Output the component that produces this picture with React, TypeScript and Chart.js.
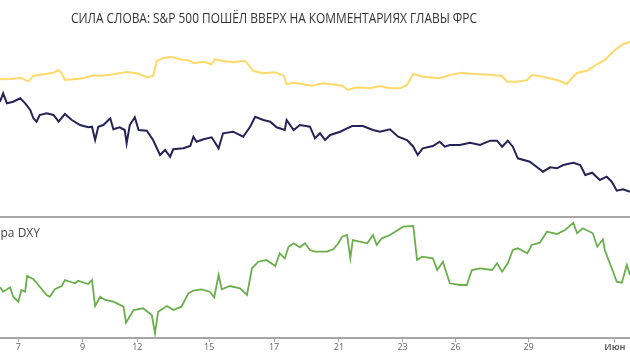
import React, { useEffect, useRef } from "react";
import { Chart, registerables } from "chart.js";

Chart.register(...registerables);

// time index (0..100) and values
const yellowT = [0, 1.6, 3.2, 4.5, 5.3, 6.9, 8.5, 9.3, 9.8, 10.3, 11.6, 13.2, 14.8, 15.9, 18.0, 20.1, 21.7, 23.3, 24.3, 24.9, 25.9, 27.0, 28.6, 30.2, 30.7, 32.3, 33.6, 34.1, 35.4, 37.0, 38.9, 40.2, 41.8, 43.7, 45.0, 45.5, 46.6, 48.1, 49.5, 51.3, 53.5, 54.4, 55.2, 56.7, 58.7, 60.3, 61.9, 63.5, 64.6, 65.6, 67.1, 69.8, 71.4, 73.3, 75.1, 77.8, 79.7, 80.5, 82.1, 83.7, 84.4, 86.2, 88.4, 90.0, 90.5, 91.6, 93.2, 94.8, 96.0, 97.3, 98.7, 100];
const yellowV = [120.7, 121, 122.3, 118.7, 124.3, 125.7, 127.3, 130, 126.7, 120, 120.7, 121.7, 124.7, 124, 125.7, 128, 126.7, 122.7, 124, 139.3, 141.7, 143.3, 140.7, 139.3, 136.7, 138.3, 135.7, 140.7, 139, 137.7, 139.3, 129, 126.7, 127.7, 124.3, 115.7, 117.3, 115.7, 114.3, 116.7, 115, 114, 110, 112.7, 111.7, 114, 111.7, 111.7, 115, 126, 123.3, 121.7, 125, 127.3, 126, 125.3, 124, 118.3, 118.3, 120, 125, 123.3, 120, 116, 120, 127.3, 129.3, 136, 140, 148.3, 155, 158.3];

const navyT = [0, 0.5, 1.1, 2.1, 3.2, 4.0, 4.8, 5.3, 5.8, 6.3, 7.4, 8.5, 9.3, 10.3, 11.4, 12.7, 14.0, 14.6, 15.1, 15.6, 16.4, 17.5, 18.0, 19.0, 19.8, 20.1, 20.6, 21.4, 22.0, 23.3, 24.3, 25.4, 26.2, 27.0, 27.5, 29.1, 30.2, 30.7, 31.2, 32.3, 33.6, 34.7, 35.4, 37.0, 38.6, 39.7, 40.5, 41.8, 42.9, 43.9, 45.2, 45.5, 46.6, 47.6, 49.2, 50.0, 50.8, 51.6, 52.4, 54.0, 55.1, 55.9, 57.6, 59.2, 60.3, 61.9, 63.2, 64.6, 65.6, 66.3, 67.1, 68.7, 69.8, 70.6, 71.4, 73.0, 74.6, 76.2, 77.8, 78.9, 79.7, 80.6, 81.4, 82.2, 84.1, 86.2, 87.3, 88.4, 89.4, 91.0, 92.1, 92.9, 94.0, 95.2, 96.3, 97.1, 97.9, 98.9, 100];
const navyV = [98.3, 106.7, 96.7, 98.3, 101.7, 96.7, 90, 81.7, 78.3, 85, 86.7, 85, 78.3, 86, 80, 75, 72.7, 73.3, 60, 73.3, 75, 81.7, 70.7, 72.7, 70, 56.7, 75, 82.7, 70, 69.3, 60, 45, 50, 43.3, 50.7, 51.7, 54, 63.3, 58.3, 60.7, 62.7, 51.7, 66.7, 68.3, 63.3, 73.3, 83.3, 80, 78.3, 72.7, 70, 80, 70, 75, 73.3, 61.7, 66.7, 60, 65, 68.3, 71.7, 74, 74, 70, 68.3, 70.7, 63.3, 60, 53.3, 45, 51.7, 54, 58.3, 53.3, 55, 55, 57.3, 55, 59.3, 59.3, 53.3, 59.3, 53.3, 41.7, 38.3, 28.3, 32.7, 31.7, 35, 37.3, 35, 25, 27.3, 20, 23.3, 18.3, 9.3, 10.7, 8.3];

const dxyT = [0, 0.5, 1.6, 2.1, 2.9, 3.4, 4.0, 4.3, 5.3, 6.1, 7.4, 7.9, 8.7, 9.8, 10.3, 11.9, 12.4, 14.0, 14.6, 15.1, 15.9, 16.7, 18.0, 19.6, 20.0, 21.2, 22.7, 24.1, 24.6, 25.1, 26.5, 27.5, 28.8, 29.9, 30.7, 32.0, 33.3, 34.0, 34.7, 35.2, 36.5, 38.1, 39.2, 40.0, 41.0, 42.3, 43.7, 44.4, 45.2, 45.8, 46.6, 47.6, 48.4, 49.2, 50.0, 51.9, 52.9, 53.7, 54.3, 55.1, 55.6, 56.0, 58.3, 59.2, 59.8, 60.6, 61.9, 64.0, 65.6, 66.2, 67.0, 68.7, 69.4, 70.3, 71.4, 73.0, 74.1, 74.9, 76.2, 78.1, 78.9, 79.7, 80.6, 81.4, 82.2, 83.7, 84.4, 85.7, 86.8, 88.4, 89.7, 91.0, 91.6, 92.5, 94.1, 94.8, 95.7, 96.0, 97.1, 97.9, 98.7, 99.5, 100];
const dxyV = [52.7, 48.3, 52.7, 43.3, 38.3, 50, 48.3, 64, 60.7, 55, 45, 43.3, 50.7, 54, 60, 56.7, 59.3, 56, 60, 34, 43.3, 40, 38.3, 33.3, 17.3, 30, 31.7, 25, 6.7, 28.3, 34, 30, 33.3, 46.7, 49.3, 50.7, 48.3, 42.7, 65, 50.7, 54, 51.7, 45, 71.7, 78.3, 80, 74, 86.7, 81.7, 93.3, 96.7, 92.7, 96.7, 90, 88.3, 88.3, 90.7, 96.7, 103.3, 105, 81.7, 100, 96.7, 105, 95, 101.7, 105, 113.3, 114, 80, 83.3, 81.7, 70, 78.3, 56.7, 55, 55, 70, 71.7, 70, 76.7, 68.3, 76.7, 90, 91.7, 86.7, 95, 97.3, 108.3, 106, 110, 117.3, 106.7, 111.7, 106.7, 93.3, 100.7, 90, 71.7, 58.3, 57.3, 75, 65];

const tickValues = [2.9, 13.1, 21.8, 33.2, 43.5, 53.8, 63.9, 72.3, 83.9, 97.6];
const tickLabels = ["7", "9", "12", "15", "17", "21", "23", "26", "29", "Июн"];

const TITLE = "СИЛА СЛОВА: S&P 500 ПОШЁЛ ВВЕРХ НА КОММЕНТАРИЯХ ГЛАВЫ ФРС";
const PANEL_LABEL = "Индекс доллара DXY";

const pts = (t: number[], v: number[]) => t.map((x, i) => ({ x, y: v[i] }));

export default function App() {
  const topRef = useRef<HTMLCanvasElement>(null);
  const botRef = useRef<HTMLCanvasElement>(null);

  useEffect(() => {
    document.body.style.margin = "0";
    const titlePlugin = {
      id: "titleText",
      afterDraw(chart: any) {
        const ctx = chart.ctx;
        ctx.save();
        ctx.font = "14px 'Open Sans'";
        ctx.fillStyle = "#333333";
        ctx.textAlign = "center";
        ctx.textBaseline = "middle";
        ctx.translate(274, 19);
        ctx.scale(0.85, 1);
        ctx.fillText(TITLE, 0, 0);
        ctx.restore();
      },
    };
    const top = new Chart(topRef.current!, {
      type: "line",
      data: {
        datasets: [
          { data: pts(yellowT, yellowV), borderColor: "#ffd96a", borderWidth: 2, pointRadius: 0, tension: 0 },
          { data: pts(navyT, navyV), borderColor: "#272257", borderWidth: 2, pointRadius: 0, tension: 0 },
        ],
      },
      options: {
        animation: false,
        responsive: false,
        events: [],
        layout: { padding: 0 },
        plugins: { legend: { display: false }, tooltip: { enabled: false }, title: { display: false } },
        scales: {
          x: { type: "linear", min: 0, max: 100, display: false },
          y: { min: -16, max: 200, display: false },
        },
      },
      plugins: [titlePlugin],
    });

    const panelPlugin = {
      id: "panelDecor",
      afterDraw(chart: any) {
        const ctx = chart.ctx;
        const a = chart.chartArea;
        ctx.save();
        ctx.strokeStyle = "#a6a6a6";
        ctx.lineWidth = 2;
        ctx.beginPath();
        ctx.moveTo(0, a.top + 1);
        ctx.lineTo(chart.width, a.top + 1);
        ctx.stroke();
        ctx.font = "12px 'Open Sans'";
        ctx.fillStyle = "#444444";
        ctx.textAlign = "right";
        ctx.textBaseline = "middle";
        ctx.fillText(PANEL_LABEL, 40, a.top + 18);
        ctx.restore();
      },
    };
    const bot = new Chart(botRef.current!, {
      type: "line",
      data: {
        datasets: [
          { data: pts(dxyT, dxyV), borderColor: "#6aaf4c", borderWidth: 1.8, pointRadius: 0, tension: 0 },
        ],
      },
      options: {
        animation: false,
        responsive: false,
        events: [],
        layout: { padding: 0 },
        plugins: { legend: { display: false }, tooltip: { enabled: false } },
        scales: {
          x: {
            type: "linear",
            min: 0,
            max: 100,
            afterBuildTicks: (s: any) => {
              s.ticks = tickValues.map((v) => ({ value: v }));
            },
            afterFit: (s: any) => {
              s.height = 17;
            },
            ticks: {
              autoSkip: false,
              maxRotation: 0,
              minRotation: 0,
              padding: 0,
              color: "#666666",
              font: (c: any) => ({
                family: "'Open Sans'",
                size: 9,
                weight: c.tick && tickValues.indexOf(c.tick.value) === tickValues.length - 1 ? "bold" : "normal",
              }),
              callback: (v: any) => {
                const i = tickValues.indexOf(Number(v));
                return i >= 0 ? tickLabels[i] : "";
              },
            },
            grid: { drawOnChartArea: false, drawTicks: true, tickLength: 4, color: "#a6a6a6" },
            border: { display: true, color: "#a6a6a6", width: 2 },
          },
          y: { min: 2, max: 124, display: false },
        },
      },
      plugins: [panelPlugin],
    });
    return () => {
      top.destroy();
      bot.destroy();
    };
  }, []);

  return (
    <div style={{ position: "absolute", left: 0, top: 0, width: 630, height: 355, background: "#fff" }}>
      <canvas ref={topRef} width={630} height={216} style={{ display: "block", width: 630, height: 216 }} />
      <canvas ref={botRef} width={630} height={139} style={{ display: "block", width: 630, height: 139 }} />
    </div>
  );
}
